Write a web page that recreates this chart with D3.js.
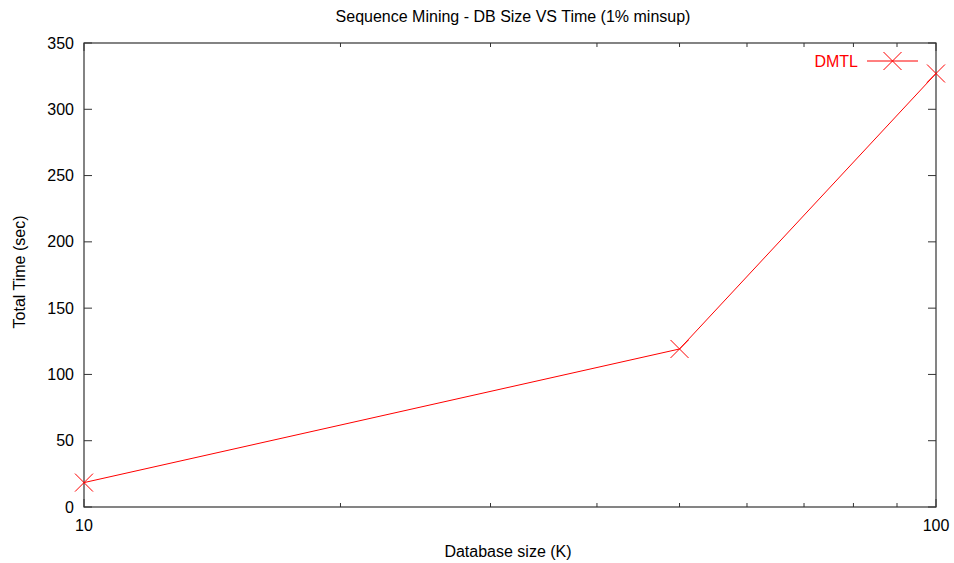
<!DOCTYPE html>
<html><head><meta charset="utf-8">
<script src="https://cdn.jsdelivr.net/npm/d3@7"></script>
<style>body{margin:0;background:#fff}svg{display:block}text{font-family:"Liberation Sans",Arial,sans-serif}</style>
</head><body><svg id="c" width="954" height="563"></svg>
<script>
const sizes = [10, 50, 100];
const times = [18.4, 119.2, 327];
const seriesName = "DMTL";
const yTicks = [0, 50, 100, 150, 200, 250, 300, 350];
const xMajor = [10, 100];
const xMinor = [20, 30, 40, 50, 60, 70, 80, 90];
const title = "Sequence Mining - DB Size VS Time (1% minsup)";
const xLabel = "Database size (K)";
const yLabel = "Total Time (sec)";

const svg = d3.select("#c");
const L = 84, R = 936, T = 43, B = 507;
const x = d3.scaleLog().domain([10, 100]).range([L, R]);
const y = d3.scaleLinear().domain([0, 350]).range([B, T]);
const axisCol = "#333";
const fs = 16;

const g = svg.append("g");
yTicks.forEach(v => {
  g.append("line").attr("x1", L).attr("x2", L + 8).attr("y1", y(v)).attr("y2", y(v)).attr("stroke", axisCol);
  g.append("line").attr("x1", R).attr("x2", R - 8).attr("y1", y(v)).attr("y2", y(v)).attr("stroke", axisCol);
  g.append("text").attr("x", L - 10).attr("y", y(v)).attr("dy", "0.35em").attr("text-anchor", "end").attr("font-size", fs).text(v);
});
xMinor.forEach(v => {
  g.append("line").attr("x1", x(v)).attr("x2", x(v)).attr("y1", B).attr("y2", B - 4).attr("stroke", axisCol);
  g.append("line").attr("x1", x(v)).attr("x2", x(v)).attr("y1", T).attr("y2", T + 4).attr("stroke", axisCol);
});
xMajor.forEach(v => {
  g.append("line").attr("x1", x(v)).attr("x2", x(v)).attr("y1", B).attr("y2", B - 8).attr("stroke", axisCol);
  g.append("line").attr("x1", x(v)).attr("x2", x(v)).attr("y1", T).attr("y2", T + 8).attr("stroke", axisCol);
  g.append("text").attr("x", x(v)).attr("y", B + 24).attr("text-anchor", "middle").attr("font-size", fs).text(v);
});
g.append("rect").attr("x", L).attr("y", T).attr("width", R - L).attr("height", B - T)
  .attr("fill", "none").attr("stroke", axisCol).attr("stroke-width", 1.2);

svg.append("text").attr("x", 513).attr("y", 22).attr("text-anchor", "middle").attr("font-size", fs).text(title);
svg.append("text").attr("x", 508).attr("y", 557).attr("text-anchor", "middle").attr("font-size", fs).text(xLabel);
svg.append("text").attr("transform", "translate(25,272) rotate(-90)")
  .attr("text-anchor", "middle").attr("font-size", fs).text(yLabel);

const data = sizes.map((s, i) => ({s, t: times[i]}));
const red = "#ff0000";
svg.append("path").datum(data).attr("fill", "none").attr("stroke", red).attr("stroke-width", 1)
  .attr("d", d3.line().x(d => x(d.s)).y(d => y(d.t)));
const cross = (px, py) => {
  const s = 9;
  svg.append("path").attr("d", `M${px - s},${py - s}L${px + s},${py + s}M${px - s},${py + s}L${px + s},${py - s}`)
    .attr("stroke", red).attr("stroke-width", 1).attr("fill", "none");
};
data.forEach(d => cross(x(d.s), y(d.t)));

const ly = 61;
svg.append("text").attr("x", 858).attr("y", ly).attr("dy", "0.35em").attr("text-anchor", "end").attr("font-size", fs).attr("fill", red).text(seriesName);
svg.append("line").attr("x1", 867).attr("x2", 918).attr("y1", ly).attr("y2", ly).attr("stroke", red);
cross(892.5, ly);
</script></body></html>
